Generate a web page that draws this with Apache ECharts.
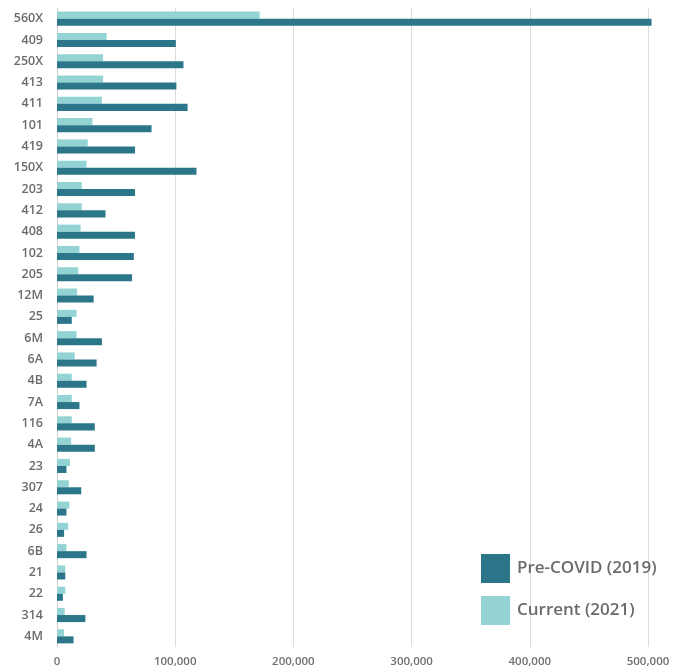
<!DOCTYPE html>
<html>
<head>
<meta charset="utf-8">
<script src="https://cdn.jsdelivr.net/npm/echarts@6/dist/echarts.min.js"></script>
<style>
  html, body { margin: 0; padding: 0; background: #fff; }
  #chart { width: 686px; height: 671px; }
</style>
</head>
<body>
<div id="chart"></div>
<script>
const routes = ['560X', '409', '250X', '413', '411', '101', '419', '150X', '203', '412',
  '408', '102', '205', '12M', '25', '6M', '6A', '4B', '7A', '116',
  '4A', '23', '307', '24', '26', '6B', '21', '22', '314', '4M'];
const preCovid = [503000, 100500, 107000, 101000, 110500, 80000, 66000, 118000, 66000, 41000,
  66000, 65000, 63500, 31000, 12500, 38000, 33500, 25000, 19000, 32000,
  32000, 8000, 20500, 8000, 6000, 25000, 7000, 5000, 24000, 14000];
const current2021 = [171500, 42000, 39000, 39000, 38000, 30000, 26000, 25000, 21000, 21000,
  20000, 19000, 18000, 17000, 16500, 16500, 15000, 12500, 12500, 12500,
  12000, 11000, 10000, 10500, 9500, 8000, 7000, 7000, 6500, 6000];

const chart = echarts.init(document.getElementById('chart'), null, { renderer: 'canvas' });
const font = '"Open Sans", "Noto Sans", sans-serif';

chart.setOption({
  animation: false,
  textStyle: { fontFamily: font },
  grid: { left: 57, right: 38, top: 8, bottom: 24, containLabel: false },
  legend: {
    orient: 'vertical',
    left: 481,
    top: 554,
    padding: 0,
    itemWidth: 29,
    itemHeight: 29,
    itemGap: 13,
    icon: 'rect',
    data: ['Pre-COVID (2019)', 'Current (2021)'],
    textStyle: { color: '#6b6b6b', fontSize: 17, fontWeight: 600, fontFamily: font, padding: [0, 0, 0, 2] }
  },
  xAxis: {
    type: 'value',
    min: 0,
    max: 500000,
    interval: 100000,
    axisLine: { show: false },
    axisTick: { show: false },
    splitLine: { lineStyle: { color: '#dcdcdc', width: 1 } },
    axisLabel: {
      color: '#707070', fontSize: 11.5, fontWeight: 600, margin: 9,
      formatter: v => v.toLocaleString('en-US')
    }
  },
  yAxis: {
    type: 'category',
    data: routes,
    inverse: true,
    axisLine: { show: true, lineStyle: { color: '#d0d0d0' } },
    axisTick: { show: false },
    axisLabel: { color: '#6b6b6b', fontSize: 12.5, fontWeight: 600, margin: 14 }
  },
  series: [
    {
      name: 'Current (2021)',
      type: 'bar',
      data: current2021,
      barGap: '0%',
      barCategoryGap: '34%',
      clip: false,
      itemStyle: { color: '#93d3d4' }
    },
    {
      name: 'Pre-COVID (2019)',
      type: 'bar',
      data: preCovid,
      barGap: '0%',
      barCategoryGap: '34%',
      clip: false,
      itemStyle: { color: '#2b7789' }
    }
  ]
});
</script>
</body>
</html>
